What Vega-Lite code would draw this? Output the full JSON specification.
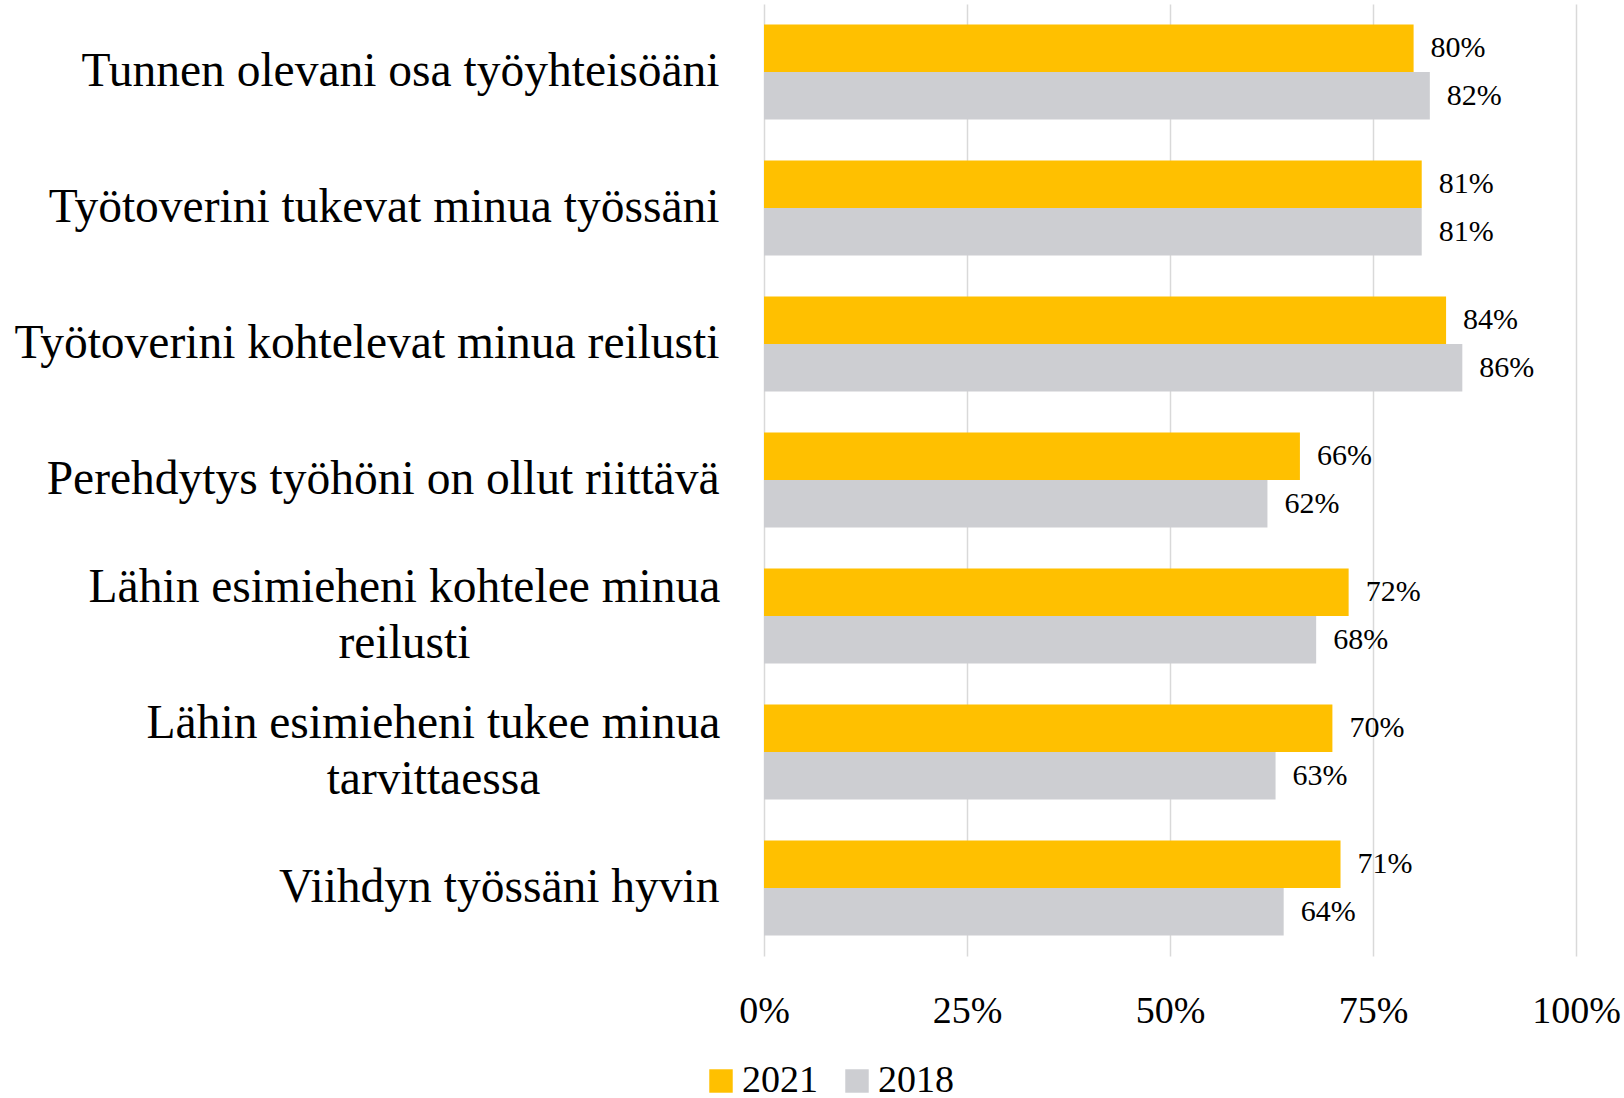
{
  "$schema": "https://vega.github.io/schema/vega-lite/v6.json",
  "width": 812,
  "height": 952,
  "autosize": {"type": "none"},
  "padding": {"left": 764, "top": 4, "right": 48, "bottom": 142},
  "background": "white",
  "config": {
    "font": "Liberation Serif",
    "view": {"stroke": null},
    "axis": {"labelFont": "Liberation Serif", "labelColor": "#000000"},
    "legend": {"labelFont": "Liberation Serif", "labelColor": "#000000"}
  },
  "data": {
    "values": [
      {"item": "Tunnen olevani osa työyhteisöäni", "year": "2021", "value": 0.80},
      {"item": "Tunnen olevani osa työyhteisöäni", "year": "2018", "value": 0.82},
      {"item": "Työtoverini tukevat minua työssäni", "year": "2021", "value": 0.81},
      {"item": "Työtoverini tukevat minua työssäni", "year": "2018", "value": 0.81},
      {"item": "Työtoverini kohtelevat minua reilusti", "year": "2021", "value": 0.84},
      {"item": "Työtoverini kohtelevat minua reilusti", "year": "2018", "value": 0.86},
      {"item": "Perehdytys työhöni on ollut riittävä", "year": "2021", "value": 0.66},
      {"item": "Perehdytys työhöni on ollut riittävä", "year": "2018", "value": 0.62},
      {"item": "Lähin esimieheni kohtelee minua|reilusti", "year": "2021", "value": 0.72},
      {"item": "Lähin esimieheni kohtelee minua|reilusti", "year": "2018", "value": 0.68},
      {"item": "Lähin esimieheni tukee minua|tarvittaessa", "year": "2021", "value": 0.70},
      {"item": "Lähin esimieheni tukee minua|tarvittaessa", "year": "2018", "value": 0.63},
      {"item": "Viihdyn työssäni hyvin", "year": "2021", "value": 0.71},
      {"item": "Viihdyn työssäni hyvin", "year": "2018", "value": 0.64}
    ]
  },
  "encoding": {
    "y": {
      "field": "item",
      "type": "nominal",
      "sort": null,
      "scale": {"paddingInner": 0.3, "paddingOuter": 0.15},
      "axis": {
        "title": null,
        "domain": false,
        "ticks": false,
        "labelFontSize": 47.5,
        "labelLimit": 800,
        "labelLineHeight": 56,
        "labelAlign": {"condition": {"test": "indexof(datum.value, '|') >= 0", "value": "center"}, "value": "right"},
        "labelPadding": {"condition": [{"test": "indexof(datum.value, 'kohtelee minua|') >= 0", "value": 360}, {"test": "indexof(datum.value, 'tukee minua|') >= 0", "value": 331}], "value": 45},
        "labelOffset": {"condition": {"test": "indexof(datum.value, '|') >= 0", "value": -28}, "value": 0},
        "labelExpr": "split(datum.label, '|')"
      }
    },
    "yOffset": {"field": "year", "type": "nominal", "sort": ["2021", "2018"], "scale": {"paddingInner": 0}},
    "x": {
      "field": "value",
      "type": "quantitative",
      "scale": {"domain": [0, 1]},
      "axis": {
        "title": null,
        "format": ".0%",
        "values": [0, 0.25, 0.5, 0.75, 1],
        "domain": false,
        "ticks": false,
        "grid": true,
        "gridColor": "#D9D9D9",
        "gridWidth": 1.5,
        "labelFontSize": 38,
        "labelPadding": 36,
        "labelFlush": false
      }
    }
  },
  "layer": [
    {
      "mark": {"type": "bar"},
      "encoding": {
        "color": {
          "field": "year",
          "type": "nominal",
          "scale": {"domain": ["2021", "2018"], "range": ["#FFC000", "#CDCED2"]},
          "legend": {
            "title": null,
            "orient": "none",
            "direction": "horizontal",
            "legendX": -62,
            "legendY": 1058,
            "symbolType": "square",
            "symbolSize": 550,
            "symbolStrokeWidth": 0,
            "labelFontSize": 38,
            "columnPadding": 20,
            "labelOffset": 2
          }
        }
      }
    },
    {
      "mark": {"type": "text", "align": "left", "dx": 17, "fontSize": 30, "color": "#000000"},
      "encoding": {
        "text": {"field": "value", "type": "quantitative", "format": ".0%"}
      }
    }
  ]
}
